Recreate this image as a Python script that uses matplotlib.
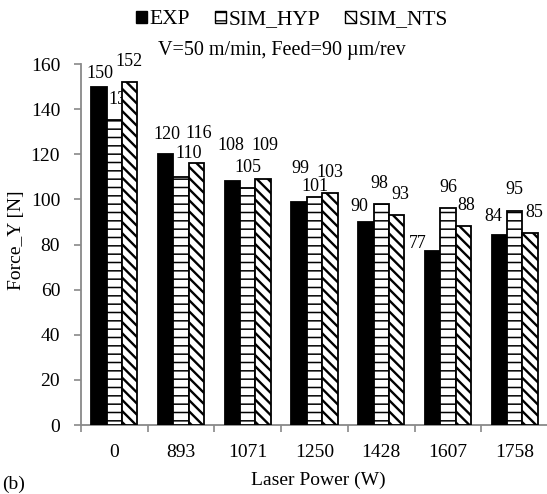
import numpy as np
import matplotlib
matplotlib.use("Agg")
import matplotlib.pyplot as plt
from matplotlib.patches import Patch

# ---- data ----
categories = ["0", "893", "1071", "1250", "1428", "1607", "1758"]
exp_vals = [150, 120, 108, 99, 90, 77, 84]
hyp_vals = [135, 110, 105, 101, 98, 96, 95]
nts_vals = [152, 116, 109, 103, 93, 88, 85]
series_names = ["EXP", "SIM_HYP", "SIM_NTS"]
yticks = [0, 20, 40, 60, 80, 100, 120, 140, 160]

# label offsets (pixels) from bar top-centre to label centre
exp_off = [(1, 13), (1, 20), (-2, 36), (1, 33), (-7, 15), (-15, 8), (-6, 19)]
hyp_off = [(8, 21), (8, 23), (0, 21), (0, 11), (-2, 20), (0, 21), (0, 21)]
nts_off = [(-1, 21), (2, 30), (2, 34), (0, 20), (4, 21), (3, 21), (4, 21)]

W, H = 547, 494
DPI = 100
plt.rcParams['font.family'] = ['Liberation Serif', 'DejaVu Serif']
plt.rcParams['hatch.color'] = 'black'

fig = plt.figure(figsize=(W / DPI, H / DPI), dpi=DPI)
ax = fig.add_axes([81 / W, 1 - 425 / H, 467 / W, 361 / H])

x = np.arange(len(categories))
w = 0.23
gray = '#898989'

styles = [
    dict(color='black', hatch=None, hlw=1.0),
    dict(color='white', hatch='--', hlw=1.1),
    dict(color='white', hatch='\\\\\\', hlw=1.7),
]
all_vals = [exp_vals, hyp_vals, nts_vals]
all_offs = [exp_off, hyp_off, nts_off]

for i, (vals, st) in enumerate(zip(all_vals, styles)):
    with plt.rc_context({'hatch.linewidth': st['hlw']}):
        bars = ax.bar(x + (i - 1) * w, vals, width=w, color=st['color'],
                      edgecolor='black', linewidth=1.3, hatch=st['hatch'],
                      zorder=3)
    for b in bars:
        if hasattr(b, 'set_hatch_linewidth'):
            b.set_hatch_linewidth(st['hlw'])

for i, (vals, offs) in enumerate(zip(all_vals, all_offs)):
    for j, (v, (dx, dy)) in enumerate(zip(vals, offs)):
        ax.annotate(str(v), xy=(x[j] + (i - 1) * w, v), xytext=(dx, dy),
                    textcoords='offset pixels', ha='center', va='center',
                    fontsize=13, zorder=2, annotation_clip=False)

ax.set_xlim(-0.5, len(categories) - 0.5)
ax.set_ylim(0, 160)
ax.set_yticks(yticks)
ax.set_yticklabels([str(t) for t in yticks])
ax.set_xticks(np.arange(len(categories) + 1) - 0.5)
ax.set_xticklabels([])
ax.set_xticks(x, minor=True)
ax.set_xticklabels(categories, minor=True)
ax.tick_params(axis='x', which='major', direction='out', length=5, width=1.2, color=gray)
ax.tick_params(axis='x', which='minor', length=0, pad=14, labelsize=14)
ax.tick_params(axis='y', direction='out', length=5, width=1.2, color=gray, pad=10, labelsize=14)

for s in ['top', 'right']:
    ax.spines[s].set_visible(False)
for s in ['left', 'bottom']:
    ax.spines[s].set_color(gray)
    ax.spines[s].set_linewidth(1.3)

# legend
handles = [Patch(facecolor=st['color'], edgecolor='black', hatch=st['hatch'], linewidth=1.0)
           for st in styles]
leg = fig.legend(handles, series_names, loc='center', ncol=3,
                 bbox_to_anchor=(292 / W, 1 - 20 / H), frameon=False,
                 fontsize=15.5, handlelength=0.5, handleheight=0.5,
                 handletextpad=0.12, columnspacing=1.15, borderpad=0)

fig.text(282 / W, 1 - 55 / H, "V=50 m/min, Feed=90 µm/rev", ha='center', va='baseline', fontsize=14.5)
fig.text(17 / W, 1 - 240 / H, "Force_Y [N]", rotation=90, ha='center', va='center', fontsize=14)
fig.text(318 / W, 1 - 480 / H, "Laser Power (W)", ha='center', va='center', fontsize=14)
fig.text(2 / W, 1 - 484 / H, "(b)", ha='left', va='center', fontsize=14)

fig.savefig("out.png", dpi=DPI)
